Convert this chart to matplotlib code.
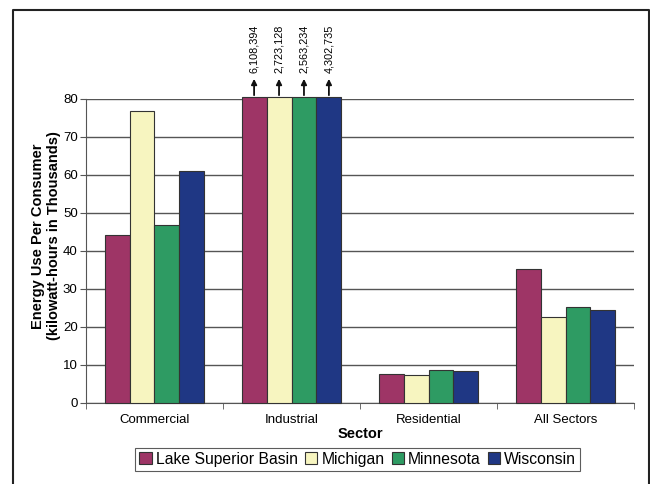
import numpy as np
import matplotlib.pyplot as plt
from matplotlib.lines import Line2D

sectors = ['Commercial', 'Industrial', 'Residential', 'All Sectors']
regions = ['Lake Superior Basin', 'Michigan', 'Minnesota', 'Wisconsin']
colors = ['#9E3566', '#F7F5C0', '#2E9B63', '#1F3784']

# values in thousands of kWh; industrial bars run off the chart
commercial = [44.2, 76.8, 46.8, 61.0]
industrial = [6108.394, 2723.128, 2563.234, 4302.735]
residential = [7.6, 7.3, 8.8, 8.4]
all_sectors = [35.3, 22.5, 25.2, 24.5]
industrial_labels = ['6,108,394', '2,723,128', '2,563,234', '4,302,735']

values = np.array([commercial, industrial, residential, all_sectors])
ymax = 80

plt.rcParams['font.family'] = ['Liberation Sans', 'DejaVu Sans']
fig = plt.figure(figsize=(6.5, 4.84), dpi=100)
ax = fig.add_axes([0.1323, 0.1674, 0.8431, 0.6281])

x = np.arange(len(sectors))
w = 0.182
for i, reg in enumerate(regions):
    h = np.minimum(values[:, i], ymax + 0.5)
    ax.bar(x + (i - 1.5) * w, h, w, color=colors[i], edgecolor='#333333',
           linewidth=0.8, label=reg, zorder=3, clip_on=False)
    # arrow + value for the clipped industrial bar
    xi = 1 + (i - 1.5) * w
    ax.annotate('', xy=(xi, 85.3), xytext=(xi, 81.0),
                arrowprops=dict(arrowstyle='-|>', color='#111111', lw=1.3,
                                mutation_scale=8, shrinkA=0, shrinkB=0),
                annotation_clip=False)
    ax.text(xi, 86.8, industrial_labels[i], rotation=90, ha='center', va='bottom',
            fontsize=7.8, clip_on=False)

ax.set_xlim(-0.5, 3.5)
ax.set_ylim(0, ymax)
ax.set_yticks(range(0, 81, 10))
ax.set_xticks(x)
ax.set_xticklabels(sectors, fontsize=9.5)
ax.set_xticks(np.arange(-0.5, 4, 1), minor=True)
ax.tick_params(axis='x', which='major', length=0, pad=8)
ax.tick_params(axis='x', which='minor', length=4, direction='out', color='#555555')
ax.tick_params(axis='y', labelsize=9.5, length=4, color='#555555', pad=2)
ax.grid(axis='y', color='#555555', linewidth=1, zorder=0)
ax.set_axisbelow(True)
for s in ['top', 'right']:
    ax.spines[s].set_visible(False)
ax.spines['left'].set_color('#555555')
ax.spines['bottom'].set_color('#555555')

ax.set_xlabel('Sector', fontsize=10.5, fontweight='bold', labelpad=1)
ax.set_ylabel('Energy Use Per Consumer\n(kilowatt-hours in Thousands)',
              fontsize=10.5, fontweight='bold', va='center')
ax.yaxis.set_label_coords(-0.073, 0.55)

leg = ax.legend(loc='upper center', bbox_to_anchor=(0.496, -0.148), ncol=4,
                fontsize=11.3, frameon=True, fancybox=False, handlelength=0.8,
                handleheight=0.8, handletextpad=0.25, columnspacing=0.45,
                borderpad=0.25, borderaxespad=0)
leg.get_frame().set_edgecolor('#333333')
leg.get_frame().set_linewidth(0.8)

# outer frame of the figure (open at bottom)
fx0, fx1, fy1 = 13 / 650, 648.5 / 650, 1 - 10 / 484
fig.add_artist(Line2D([fx0, fx0, fx1, fx1], [0, fy1, fy1, 0],
                      color='#222222', lw=1.5, transform=fig.transFigure))

fig.savefig('out.png', dpi=100)
